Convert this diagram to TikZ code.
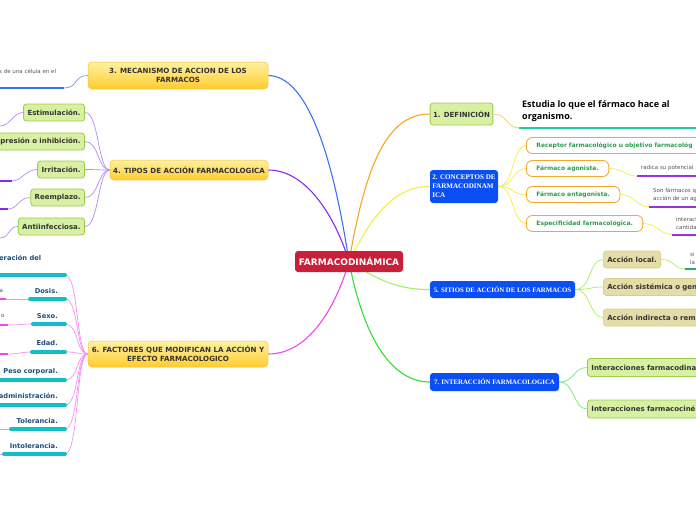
\documentclass[tikz,border=0pt]{standalone}
\usepackage{fontspec}
\setmainfont{DejaVu Sans}
\newfontfamily\serifb{Liberation Serif}
\newfontfamily\osans{Open Sans}
\usetikzlibrary{backgrounds}
\definecolor{cred}{HTML}{C81F3A}
\definecolor{yTop}{HTML}{FFF1A0}
\definecolor{yBot}{HTML}{FFCC30}
\definecolor{yBrd}{HTML}{F2C23A}
\definecolor{txtdark}{HTML}{333333}
\definecolor{gFill}{HTML}{D8F0A2}
\definecolor{gBrd}{HTML}{9DCB4E}
\definecolor{bBlue}{HTML}{0A4EF5}
\definecolor{oBrd}{HTML}{F5A623}
\definecolor{oTxt}{HTML}{2E9E4E}
\definecolor{kFill}{HTML}{E4DDA8}
\definecolor{kBrd}{HTML}{D6CE8C}
\definecolor{ftxt}{HTML}{1F4E78}
\definecolor{tealbar}{HTML}{12BFC6}
\definecolor{cBlue}{HTML}{3A72F0}
\definecolor{cPurple}{HTML}{8A2BF0}
\definecolor{cPurpleL}{HTML}{B68AF8}
\definecolor{cMag}{HTML}{F048F0}
\definecolor{cMagL}{HTML}{F590F5}
\definecolor{cOrange}{HTML}{F5A623}
\definecolor{cOrangeL}{HTML}{F8C878}
\definecolor{cYellow}{HTML}{F0F040}
\definecolor{cLime}{HTML}{A8F060}
\definecolor{cGreen}{HTML}{30E030}
\definecolor{uTeal}{HTML}{1FCBA0}
\definecolor{uPurple}{HTML}{9B30D8}
\definecolor{uGreen}{HTML}{22B060}
\definecolor{smallgray}{HTML}{555555}
\tikzset{
 central/.style={fill=cred, rounded corners=3pt, text=white, font=\fontsize{9}{10}\selectfont\bfseries, minimum width=108pt, minimum height=21pt, inner sep=0pt},
 ybox/.style={rounded corners=4pt, top color=yTop, bottom color=yBot, draw=yBrd, line width=0.5pt, text=txtdark, font=\fontsize{7.1}{9}\selectfont\bfseries, align=center, inner sep=0pt},
 gbox/.style={rounded corners=3pt, fill=gFill, draw=gBrd, line width=0.8pt, text=txtdark, font=\fontsize{7}{8}\selectfont\bfseries, minimum height=17pt, inner xsep=4pt, inner ysep=0pt},
 bbox/.style={rounded corners=3pt, fill=bBlue, text=white, font=\serifb\fontsize{6.8}{8.5}\selectfont\bfseries, inner sep=0pt},
 obox/.style={rounded corners=6pt, fill=white, draw=oBrd, line width=0.8pt, text=oTxt, font=\fontsize{6}{7}\selectfont\bfseries, minimum height=16pt, inner xsep=10pt, inner ysep=0pt},
 kbox/.style={rounded corners=3pt, fill=kFill, draw=kBrd, line width=0.6pt, text=txtdark, font=\fontsize{7}{8}\selectfont\bfseries, minimum height=17pt, inner xsep=4pt, inner ysep=0pt},
 lbl/.style={text=ftxt, font=\fontsize{6.7}{8}\selectfont\bfseries, inner sep=0pt},
 small/.style={text=smallgray, font=\fontsize{5.5}{8}\selectfont, inner sep=0pt, align=left},
 bar/.style={line width=4pt, line cap=round, draw=tealbar},
 mainc/.style={line width=1.1pt},
 subc/.style={line width=0.7pt},
 uline/.style={line width=2pt},
}
\begin{document}
\begin{tikzpicture}[x=1pt,y=-1pt]
\clip (0,0) rectangle (696,520);
% central
\node[central] (c) at (349,261.5) {FARMACODINÁMICA};
% branch 3
\node[ybox, minimum width=180pt, minimum height=27pt] (m3) at (178,75.5) {3. MECANISMO DE ACCION DE LOS\\FARMACOS};
\node[small, anchor=west] (m3t) at (-1,71.5) {s de una célula en el};
\coordinate (m3u) at (64,88);
% branch 4
\node[ybox, minimum width=158pt, minimum height=20pt] (m4) at (189,170) {4. TIPOS DE ACCIÓN FARMACOLOGICA};
\node[gbox, anchor=east] (k1) at (85,112.5) {Estimulación.};
\node[gbox, anchor=east, text width=92pt, align=right] (k2) at (85,141.5) {presión o inhibición.};
\node[gbox, anchor=east] (k3) at (85,169.5) {Irritación.};
\node[gbox, anchor=east] (k4) at (85,197.5) {Reemplazo.};
\node[gbox, anchor=east] (k5) at (85,226.5) {Antiinfecciosa.};
\coordinate (k1l) at (0,126);
\coordinate (k3l) at (12,181);
\coordinate (k4l) at (8,209);
\coordinate (k5l) at (0,238);
% branch 6
\node[ybox, minimum width=180pt, minimum height=26pt] (m6) at (178,354) {6. FACTORES QUE MODIFICAN LA ACCIÓN Y\\EFECTO FARMACOLOGICO};
\node[lbl, anchor=west] (f1t) at (-1,258) {eración del};
\node[lbl, anchor=east] (f2t) at (58,291) {Dosis.};
\node[lbl, anchor=east] (f3t) at (58,316) {Sexo.};
\node[lbl, anchor=east] (f4t) at (58,343) {Edad.};
\node[lbl, anchor=east] (f5t) at (58,372) {Peso corporal.};
\node[lbl, anchor=east] (f6t) at (58,396) {administración.};
\node[lbl, anchor=east] (f7t) at (58,421) {Tolerancia.};
\node[lbl, anchor=east] (f8t) at (58,445.5) {Intolerancia.};
\coordinate (f1) at (65,275); \coordinate (f1a) at (-3,275);
\coordinate (f2) at (65,299); \coordinate (f2a) at (30,299);
\coordinate (f3) at (65,324); \coordinate (f3a) at (33,324);
\coordinate (f4) at (65,352); \coordinate (f4a) at (32,352);
\coordinate (f5) at (65,380); \coordinate (f5a) at (-3,380);
\coordinate (f6) at (65,405); \coordinate (f6a) at (-3,405);
\coordinate (f7) at (65,429); \coordinate (f7a) at (11,429);
\coordinate (f8) at (65,454); \coordinate (f8a) at (4,454);
\node[small, anchor=west] (g2t) at (-0.5,291) {a};
\node[small, anchor=west] (g3t) at (1,316) {o};
\coordinate (g2) at (6,299);
\coordinate (g3) at (8,325);
\coordinate (g4) at (8,354);
\coordinate (g7) at (0,429);
\coordinate (g8) at (0,454);
% branch 1
\node[gbox, minimum height=22pt, inner xsep=3pt] (d1) at (461.5,114) {1. DEFINICIÓN};
\node[anchor=north west, inner sep=0pt, align=left, text=black, font=\osans\fontsize{9}{12.5}\selectfont\bfseries] (d1t) at (522,100) {Estudia lo que el fármaco hace al\\organismo.};
\coordinate (d1u) at (519,128);
% branch 2
\node[bbox, minimum width=68pt, minimum height=33pt, align=left, font=\serifb\fontsize{7.1}{9}\selectfont\bfseries] (d2) at (464,186.5) {2. CONCEPTOS DE\\FARMACODINAM\\ICA};
\node[obox, anchor=west, minimum width=200pt, align=left, text width=180pt] (o1) at (526,145.5) {Receptor farmacológico u objetivo farmacológ};
\node[obox, anchor=west] (o2) at (526,168.5) {Fármaco agonista.};
\node[obox, anchor=west] (o3) at (526,194.5) {Fármaco antagonista.};
\node[obox, anchor=west] (o4) at (526,223.5) {Especificidad farmacológica.};
\node[small, anchor=west] (o2t) at (641,168) {radica su potencial};
\node[small, anchor=west] (o3t) at (653,194.5) {Son fármacos q\\acción de un ag};
\node[small, anchor=west] (o4t) at (676,223) {interact\\cantida};
\coordinate (o2u) at (637,176);
\coordinate (o3u) at (649,207);
\coordinate (o4u) at (672,234.5);
% branch 5
\node[bbox, minimum width=145pt, minimum height=17pt] (d5) at (502.5,289.5) {5. SITIOS DE ACCIÓN DE LOS FARMACOS};
\node[kbox, anchor=west] (s1) at (603,259.5) {Acción local.};
\node[kbox, anchor=west, minimum width=110pt, text width=102pt, align=left] (s2) at (603,287) {Acción sistémica o gen};
\node[kbox, anchor=west, minimum width=110pt, text width=102pt, align=left] (s3) at (603,317.5) {Acción indirecta o rem};
\node[small, anchor=west, font=\fontsize{5.5}{7.5}\selectfont] (s1t) at (690,258.5) {si\\la};
\coordinate (s1u) at (685,269);
% branch 7
\node[bbox, minimum width=129pt, minimum height=18pt] (d7) at (494.5,382) {7. INTERACCIÓN FARMACOLOGICA};
\node[gbox, anchor=west, minimum height=18pt, minimum width=130pt, text width=122pt, align=left] (i1) at (587,367.5) {Interacciones farmacodina};
\node[gbox, anchor=west, minimum height=18pt, minimum width=130pt, text width=122pt, align=left] (i2) at (587,409) {Interacciones farmacociné};

\begin{pgfonlayer}{background}
\fill[white] (0,0) rectangle (696,520);
% main connectors
\draw[mainc, cBlue] (m3.east) .. controls (315,76) and (338,190) .. (c.center);
\draw[mainc, cPurple] (m4.east) .. controls (310,170) and (338,225) .. (c.center);
\draw[mainc, cMag] (m6.east) .. controls (312,354) and (338,300) .. (c.center);
\draw[mainc, cOrange] (c.center) .. controls (365,170) and (385,114) .. (d1.west);
\draw[mainc, cYellow] (c.center) .. controls (372,215) and (395,186) .. (d2.west);
\draw[mainc, cLime] (c.center) .. controls (385,285) and (405,289.5) .. (d5.west);
\draw[mainc, cGreen] (c.center) .. controls (365,345) and (395,382) .. (d7.west);
% branch 3
\draw[subc, cBlue!70] (m3.west) .. controls +(-14,0) and +(14,0) .. (m3u);
\draw[uline, cBlue] (m3u) -- (-2,88);
% branch 4
\foreach \k in {k1,k2,k3,k4,k5}
  \draw[subc, cPurpleL] (\k.east) .. controls +(14,0) and +(-12,0) .. (m4.west);
\draw[subc, cPurpleL] (k1.west) .. controls +(-10,0) and +(10,0) .. (k1l);
\draw[subc, cPurpleL] (k3.west) .. controls +(-12,0) and +(10,0) .. (k3l);
\draw[uline, cPurple] (k3l) -- (-2,181);
\draw[subc, cPurpleL] (k4.west) .. controls +(-12,0) and +(10,0) .. (k4l);
\draw[uline, cPurple] (k4l) -- (-2,209);
\draw[subc, cPurpleL] (k5.west) .. controls +(-10,0) and +(10,0) .. (k5l);
% branch 6
\foreach \f in {f1,f2,f3,f4,f5,f6,f7,f8}
  \draw[subc, cMagL] (\f) .. controls +(14,0) and +(-12,0) .. (m6.west);
\draw[subc, cMagL] (f2a) -- (g2);
\draw[uline, cMag] (g2) -- (-2,299);
\draw[subc, cMagL] (f3a) .. controls +(-10,0) and +(10,0) .. (g3);
\draw[uline, cMag] (g3) -- (-2,325);
\draw[subc, cMagL] (f4a) .. controls +(-10,0) and +(10,0) .. (g4);
\draw[uline, cMag] (g4) -- (-2,354);
\draw[subc, cMagL] (f7a) -- (g7);
\draw[subc, cMagL] (f8a) -- (g8);
% branch 1
\draw[subc, cOrangeL] (d1.east) .. controls +(14,0) and +(-12,0) .. (d1u);
\draw[uline, uTeal] (d1u) -- (700,128);
% branch 2
\foreach \o in {o1,o2,o3,o4}
  \draw[subc, cYellow] (d2.east) .. controls +(16,0) and +(-14,0) .. (\o.west);
\draw[subc, cYellow] (o2.east) .. controls +(14,0) and +(-12,0) .. (o2u);
\draw[uline, uPurple] (o2u) -- (700,176);
\draw[subc, cYellow] (o3.east) .. controls +(14,0) and +(-12,0) .. (o3u);
\draw[uline, uPurple] (o3u) -- (700,207);
\draw[subc, cYellow] (o4.east) .. controls +(14,0) and +(-12,0) .. (o4u);
\draw[uline, uPurple] (o4u) -- (700,234.5);
% branch 5
\foreach \s in {s1,s2,s3}
  \draw[subc, cLime] (d5.east) .. controls +(16,0) and +(-14,0) .. (\s.west);
\draw[subc, cLime] (s1.east) .. controls +(14,0) and +(-12,0) .. (s1u);
\draw[uline, uGreen] (s1u) -- (700,269);
% branch 7
\foreach \i in {i1,i2}
  \draw[subc, cGreen!70] (d7.east) .. controls +(16,0) and +(-14,0) .. (\i.west);
\end{pgfonlayer}
% teal bars on top
\draw[bar] (f1a) -- (f1);
\draw[bar] (f2a) -- (f2);
\draw[bar] (f3a) -- (f3);
\draw[bar] (f4a) -- (f4);
\draw[bar] (f5a) -- (f5);
\draw[bar] (f6a) -- (f6);
\draw[bar] (f7a) -- (f7);
\draw[bar] (f8a) -- (f8);
\end{tikzpicture}
\end{document}
